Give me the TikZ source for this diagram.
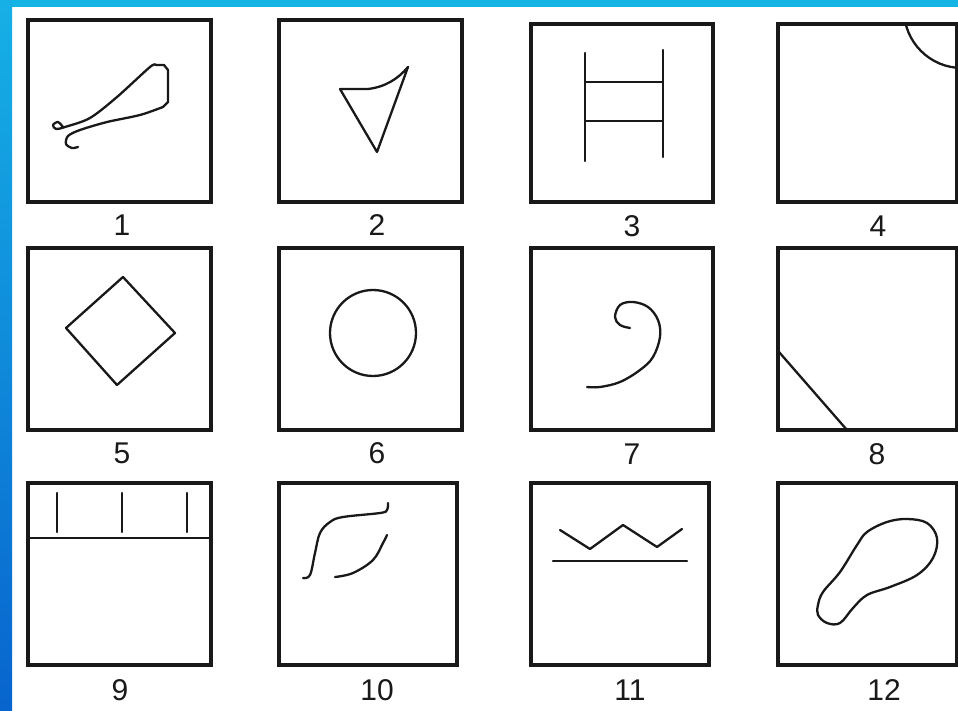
\documentclass[tikz,border=0pt]{standalone}
\usepackage{fontspec}
\newfontfamily\labfont{Liberation Sans}
\definecolor{bandblue}{RGB}{20,180,228}
\definecolor{striptop}{RGB}{22,176,230}
\definecolor{stripbot}{RGB}{8,100,206}
\definecolor{ink}{RGB}{25,25,25}
\begin{document}
\begin{tikzpicture}[x=1pt,y=-1pt,
  panel/.style={draw=ink, line width=3.2pt, inner sep=0pt, outer sep=0pt, minimum width=183pt, minimum height=182pt},
  shapeline/.style={draw=ink, line width=2.3pt, line join=round, line cap=round},
  numlabel/.style={font=\labfont\fontsize{30}{30}\selectfont, inner sep=0pt, text=ink}]
\useasboundingbox (0,0) rectangle (958,711);
\clip (0,0) rectangle (958,711);
% background
\fill[white] (0,0) rectangle (958,711);
\fill[bandblue] (0,0) rectangle (958,7);
\shade[top color=striptop, bottom color=stripbot] (0,0) rectangle (12,711);

% panels
\node[panel] (b1) at (119.5,111) {};
\node[panel] (b2) at (370.5,111) {};
\node[panel, minimum width=182pt, minimum height=178pt] (b3) at (622,113) {};
\node[panel, minimum width=179pt, minimum height=178pt] (b4) at (867.5,113) {};
\node[panel] (b5) at (119.5,339) {};
\node[panel] (b6) at (370.5,339) {};
\node[panel, minimum width=182pt] (b7) at (622,339) {};
\node[panel, minimum width=179pt] (b8) at (867.5,339) {};
\node[panel] (b9) at (119.5,574) {};
\node[panel, minimum width=178pt] (b10) at (368,574) {};
\node[panel, minimum width=178pt] (b11) at (620,574) {};
\node[panel, minimum width=179pt] (b12) at (867.5,574) {};

% labels
\node[numlabel] (l1) at (122,225) {1};
\node[numlabel] (l2) at (377,225) {2};
\node[numlabel] (l3) at (632,226) {3};
\node[numlabel] (l4) at (878,226) {4};
\node[numlabel] (l5) at (122,453) {5};
\node[numlabel] (l6) at (377,453) {6};
\node[numlabel] (l7) at (632,454) {7};
\node[numlabel] (l8) at (877,454) {8};
\node[numlabel] (l9) at (120,690) {9};
\node[numlabel] (l10) at (377,690) {10};
\node[numlabel] (l11) at (630,690) {11};
\node[numlabel] (l12) at (884,690) {12};

% 1: boot-like shape with curls
\draw[shapeline] plot[smooth, tension=0.5] coordinates {(63,127) (58,122) (53,125) (56,129) (65,127) (90,118) (117,97) (150,67) (156,65)}
  -- (164,65) -- (168,70) -- (168,102) -- (163,107)
  plot[smooth, tension=0.5] coordinates {(163,107) (140,115) (107,122) (80,130) (68,136) (66,144) (72,148) (78,147)};

% 2: triangle with curved top edge
\draw[shapeline] (408,67) -- (377,152) -- (340,89) -- (368,89) .. controls (385,87) and (398,79) .. (408,67);

% 3: ladder
\draw[shapeline] (585,53) -- (585,161);
\draw[shapeline] (663,50) -- (663,157);
\draw[shapeline] (585,82) -- (663,82);
\draw[shapeline] (585,121) -- (663,121);

% 4: corner arc
\begin{scope}
  \clip (779,24) rectangle (957,202);
  \draw[shapeline, line cap=butt] (962,10) circle (58);
\end{scope}

% 5: diamond
\draw[shapeline] (123,277) -- (175,333) -- (117,385) -- (66,328) -- cycle;

% 6: circle
\draw[shapeline] (373,333) circle (43);

% 7: spiral
\draw[shapeline] plot[smooth, tension=0.6] coordinates {(630,328) (620,325) (615,317) (620,305) (633,302) (648,307) (658,320) (660,337) (653,357) (640,370) (620,382) (600,387) (587,387)};

% 8: corner diagonal
\draw[shapeline] (779,352) -- (847,430);

% 9: band with ticks
\draw[shapeline, line cap=butt] (28,538) -- (211,538);
\draw[shapeline] (57,493) -- (57,532);
\draw[shapeline] (122,493) -- (122,532);
\draw[shapeline] (187,493) -- (187,532);

% 10: two curves
\draw[shapeline] plot[smooth, tension=0.6] coordinates {(303,578) (310,575) (315,553) (320,533) (330,522) (343,517) (380,513) (387,510) (388,503)};
\draw[shapeline] plot[smooth, tension=0.6] coordinates {(335,577) (353,573) (373,560) (383,543) (387,535)};

% 11: zigzag over line
\draw[shapeline] (560,530) -- (590,549) -- (623,525) -- (657,547) -- (682,529);
\draw[shapeline] (553,561) -- (687,561);

% 12: foot-shaped blob
\draw[shapeline] plot[smooth cycle, tension=0.6] coordinates {(818,605) (823,592) (840,572) (857,545) (867,532) (887,522) (907,519) (927,523) (937,538) (933,558) (917,575) (890,587) (867,595) (853,608) (840,623) (827,623) (818,615)};
\end{tikzpicture}
\end{document}
